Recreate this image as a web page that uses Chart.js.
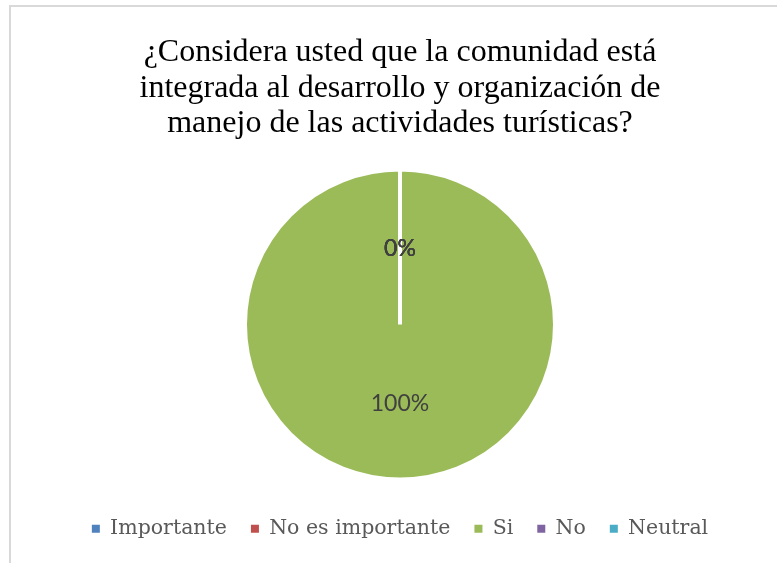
<!DOCTYPE html>
<html>
<head>
<meta charset="utf-8">
<script src="https://cdn.jsdelivr.net/npm/chart.js@4/dist/chart.umd.min.js"></script>
<style>
  html, body { margin: 0; padding: 0; background: #fff; overflow: hidden; }
  #frame {
    position: absolute; left: 9px; top: 5px;
    width: 820px; height: 620px;
    border-left: 2px solid #d9d9d9; border-top: 2px solid #d9d9d9;
    overflow: hidden;
  }
  canvas { display: block; }
</style>
</head>
<body>
<div id="frame"><canvas id="pieChart" width="778" height="542"></canvas></div>
<script>
const titleLines = [
    '¿Considera usted que la comunidad está',
    'integrada al desarrollo y organización de',
    'manejo de las actividades turísticas?'
];
const categories = ['Importante', 'No es importante', 'Si', 'No', 'Neutral'];
const values = [0, 0, 100, 0, 0];
const colors = ['#4f81bd', '#c0504d', '#9bbb59', '#8064a2', '#4bacc6'];

// percent labels drawn on the slices, like Excel data labels
const sliceLabels = {
    id: 'sliceLabels',
    afterDatasetsDraw(chart) {
        const ctx = chart.ctx;
        const meta = chart.getDatasetMeta(0);
        const total = values.reduce((a, b) => a + b, 0);
        ctx.save();
        ctx.font = '23px Lato';
        ctx.fillStyle = '#404040';
        ctx.textAlign = 'center';
        ctx.textBaseline = 'middle';
        meta.data.forEach((arc, i) => {
            const p = arc.getCenterPoint();
            const pct = Math.round(values[i] / total * 100) + '%';
            ctx.fillText(pct, p.x, p.y + 2);
        });
        ctx.restore();
    }
};

const ctx = document.getElementById('pieChart').getContext('2d');
new Chart(ctx, {
    type: 'pie',
    data: {
        labels: categories,
        datasets: [{
            data: values,
            backgroundColor: colors,
            borderColor: '#ffffff',
            borderWidth: 4,
            radius: 155
        }]
    },
    options: {
        responsive: false,
        animation: false,
        events: [],
        layout: { padding: 0 },
        plugins: {
            title: {
                display: true,
                text: titleLines,
                color: '#000000',
                font: { family: '"Liberation Serif"', size: 32, weight: 'normal', lineHeight: 1.11 },
                padding: { top: 28, bottom: 13 }
            },
            legend: {
                position: 'bottom',
                labels: {
                    color: '#595959',
                    font: { family: '"DejaVu Serif"', size: 20.5 },
                    boxWidth: 8,
                    boxHeight: 8,
                    padding: 24,
                    generateLabels(chart) {
                        const items = Chart.overrides.pie.plugins.legend.labels.generateLabels(chart);
                        items.forEach(it => { it.lineWidth = 0; it.strokeStyle = it.fillStyle; });
                        return items;
                    }
                }
            },
            tooltip: { enabled: false }
        }
    },
    plugins: [sliceLabels]
});
</script>
</body>
</html>
